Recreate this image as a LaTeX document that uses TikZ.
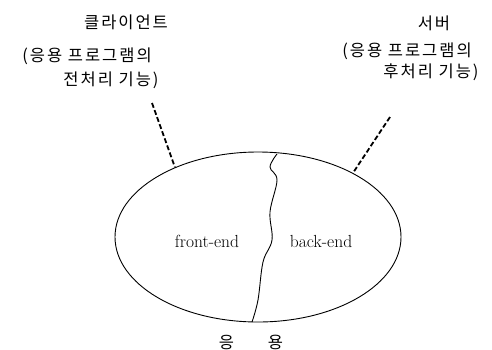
\documentclass[tikz,border=0pt]{standalone}
\usepackage{fontspec}
\newfontfamily\kofont[LetterSpace=12]{Noto Sans CJK KR}
\usetikzlibrary{shapes.geometric}

\begin{document}
\begin{tikzpicture}[x=1pt,y=-1pt]

% --- Stijlen ---
\tikzset{
    appShape/.style={
        ellipse,
        draw=black,
        line width=0.9pt,
        minimum width=286pt,
        minimum height=170pt,
        inner sep=0pt
    },
    splitLine/.style={
        draw=black,
        line width=0.9pt
    },
    roleLink/.style={
        draw=black,
        line width=1.8pt,
        dash pattern=on 5pt off 2.5pt
    },
    roleLabel/.style={
        font=\kofont\fontsize{16.5}{19}\selectfont,
        inner sep=0pt
    },
    partLabel/.style={
        font=\fontsize{17.5}{20}\selectfont,
        inner sep=0pt,
        anchor=base
    }
}

\useasboundingbox (0,0) rectangle (492,349);

% =========================================================
% Toepassing: ellips met front-end en back-end
% =========================================================

\node[appShape] (app) at (258,237) {};

% Golvende scheidingslijn
\draw[splitLine] plot[smooth, tension=0.6] coordinates {
    (277,154) (270,167) (277,180) (270,212) (272,240)
    (263,262) (258,300) (252,322)};

\node[partLabel] (front) at (207,247) {front-end};
\node[partLabel] (back) at (321,247) {\addfontfeature{LetterSpace=6}back-end};

\node[roleLabel] (appName) at (251,342) {응\hspace{34pt}용};

% =========================================================
% Links: client
% =========================================================

\node[roleLabel] (client) at (126,22) {클라이언트};
\node[roleLabel] (clientNoteA) at (87,56) {(응용 프로그램의};
\node[roleLabel] (clientNoteB) at (111,80) {전처리 기능)};

\coordinate (clientTip) at (152,103);
\draw[roleLink] (clientTip) -- (app.140);

% =========================================================
% Rechts: server
% =========================================================

\node[roleLabel] (server) at (434,23) {서버};
\node[roleLabel] (serverNoteA) at (407,51) {(응용 프로그램의};
\node[roleLabel] (serverNoteB) at (431,72) {후처리 기능)};

\coordinate (serverTip) at (390,117);
\draw[roleLink] (serverTip) -- (app.34);

\end{tikzpicture}
\end{document}
